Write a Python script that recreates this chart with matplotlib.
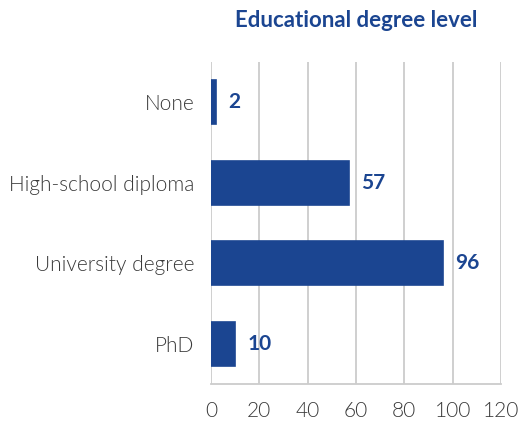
import matplotlib
matplotlib.use("Agg")
import matplotlib.pyplot as plt

categories = ["None", "High-school diploma", "University degree", "PhD"]
values = [2, 57, 96, 10]
xticks = [0, 20, 40, 60, 80, 100, 120]
title = "Educational degree level"

blue = "#1b4591"
grid = "#cccccc"
txt = "#3a3a3a"

plt.rcParams['font.family'] = ['Lato', 'DejaVu Sans']

fig = plt.figure(figsize=(5.23, 4.22), dpi=100)
ax = fig.add_axes([0.4034, 0.090, 0.5545, 0.763])

y = list(range(len(categories)))
ax.barh(y, values, height=0.55, color=blue, edgecolor=blue, linewidth=1.2, zorder=3)
ax.set_ylim(len(categories) - 0.5, -0.5)
ax.set_xlim(0, 120)
ax.set_xticks(xticks)
ax.set_xticklabels([str(t) for t in xticks])
ax.set_yticks(y)
ax.set_yticklabels(categories)
ax.tick_params(axis='both', length=0, labelsize=15, colors=txt)
ax.tick_params(axis='x', pad=12)
ax.tick_params(axis='y', pad=12)
for lab in ax.get_xticklabels() + ax.get_yticklabels():
    lab.set_fontweight(300)
ax.grid(axis='x', color=grid, linewidth=1.3, zorder=0)
for s in ['top', 'right', 'left']:
    ax.spines[s].set_visible(False)
ax.spines['bottom'].set_color(grid)
ax.spines['bottom'].set_linewidth(1.3)

for yi, v in zip(y, values):
    ax.text(v + 5, yi, str(v), va='center', ha='left', fontsize=15,
            fontweight='bold', color=blue, zorder=4)

fig.text(0.682, 0.952, title, ha='center', va='center', fontsize=16,
         fontweight='bold', color=blue)

fig.savefig("out.png", dpi=100)
